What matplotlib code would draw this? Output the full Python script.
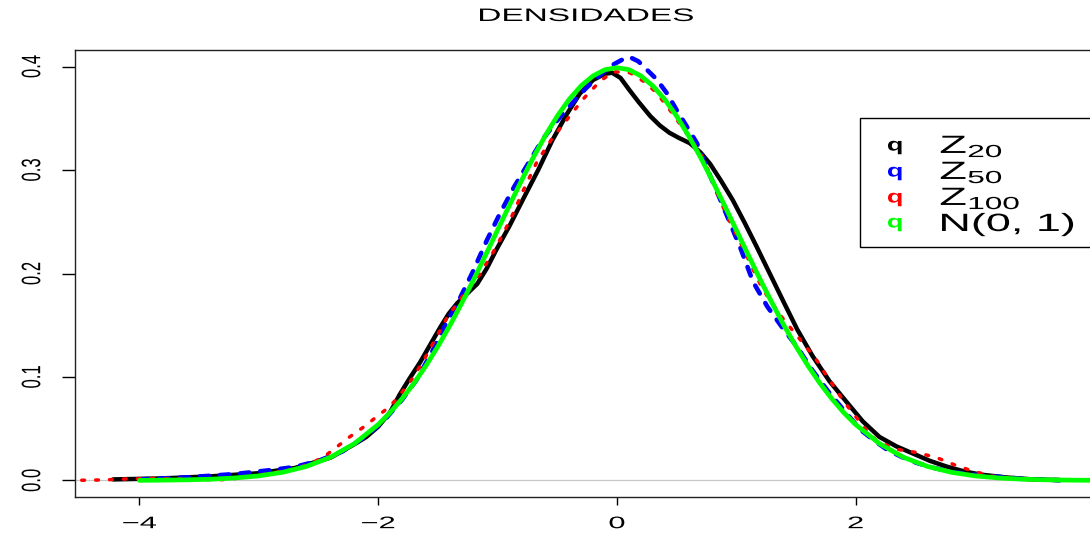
import matplotlib
matplotlib.use("Agg")
import matplotlib.pyplot as plt
from matplotlib.patches import Rectangle
from matplotlib.patheffects import AbstractPathEffect
from matplotlib.transforms import Affine2D

plt.rcParams['font.family'] = ['Liberation Sans', 'DejaVu Sans']
plt.rcParams['mathtext.fontset'] = 'custom'
plt.rcParams['mathtext.rm'] = 'Liberation Sans'

# estimated kernel densities of the standardized means
z20_x = [-4.22, -3.8, -3.4, -3.0, -2.7, -2.4, -2.2, -2.1, -2.0, -1.9, -1.82, -1.74,
         -1.65, -1.56, -1.48, -1.41, -1.34, -1.26, -1.17, -1.09, -1.01, -0.9, -0.79,
         -0.66, -0.54, -0.42, -0.31, -0.2, -0.1, -0.04, 0.03, 0.1, 0.18, 0.28, 0.36,
         0.44, 0.52, 0.61, 0.7, 0.78, 0.87, 0.97, 1.07, 1.17, 1.28, 1.39, 1.51, 1.64,
         1.78, 1.93, 2.06, 2.2, 2.34, 2.48, 2.62, 2.76, 2.9, 3.04, 3.25, 3.46, 3.71]
z20_y = [0.001, 0.002, 0.004, 0.007, 0.012, 0.022, 0.035, 0.042, 0.052, 0.066, 0.083,
         0.098, 0.114, 0.132, 0.148, 0.161, 0.171, 0.180, 0.190, 0.205, 0.223, 0.246,
         0.271, 0.300, 0.329, 0.354, 0.374, 0.387, 0.393, 0.394, 0.389, 0.378, 0.366,
         0.352, 0.343, 0.336, 0.331, 0.326, 0.317, 0.306, 0.290, 0.271, 0.249, 0.226,
         0.200, 0.174, 0.146, 0.120, 0.096, 0.075, 0.057, 0.042, 0.033, 0.026, 0.019,
         0.0135, 0.009, 0.0058, 0.003, 0.0012, 0.0003]

z50_x = [-4.0, -3.6, -3.2, -2.9, -2.7, -2.5, -2.3, -2.1, -1.95, -1.8, -1.68, -1.55,
         -1.43, -1.32, -1.21, -1.09, -0.98, -0.86, -0.74, -0.62, -0.5, -0.38, -0.26,
         -0.14, -0.03, 0.05, 0.11, 0.18, 0.25, 0.33, 0.42, 0.5, 0.58, 0.67, 0.76, 0.86,
         0.95, 1.04, 1.14, 1.26, 1.39, 1.51, 1.64, 1.77, 1.9, 2.04, 2.15, 2.26, 2.38,
         2.51, 2.66, 2.82, 3.0, 3.15, 3.4, 3.71]
z50_y = [0.001, 0.003, 0.0062, 0.010, 0.013, 0.019, 0.028, 0.043, 0.058, 0.078, 0.097,
         0.124, 0.152, 0.175, 0.201, 0.232, 0.258, 0.284, 0.307, 0.330, 0.348, 0.364,
         0.379, 0.392, 0.402, 0.407, 0.409, 0.405, 0.397, 0.388, 0.374, 0.358, 0.343,
         0.326, 0.300, 0.273, 0.248, 0.223, 0.192, 0.168, 0.147, 0.129, 0.106, 0.086,
         0.068, 0.049, 0.039, 0.030, 0.023, 0.017, 0.012, 0.008, 0.0055, 0.004, 0.0015,
         0.0003]

z100_x = [-4.6, -4.3, -4.1, -3.9, -3.7, -3.5, -3.3, -3.1, -2.9, -2.7, -2.55, -2.43,
          -2.34, -2.24, -2.13, -2.03, -1.93, -1.85, -1.71, -1.61, -1.51, -1.42, -1.30,
          -1.15, -1.04, -0.95, -0.87, -0.79, -0.67, -0.54, -0.41, -0.28, -0.14, -0.03,
          0.11, 0.22, 0.33, 0.45, 0.58, 0.7, 0.78, 0.84, 0.92, 1.06, 1.14, 1.22, 1.38,
          1.55, 1.62, 1.68, 1.74, 1.80, 1.85, 1.91, 1.97, 2.10, 2.19, 2.35, 2.51, 2.68,
          2.83, 2.98, 3.15, 3.32, 3.55, 3.8]
z100_y = [0.0, 0.0005, 0.0015, 0.002, 0.0015, 0.0008, 0.0008, 0.003, 0.007, 0.011,
          0.017, 0.025, 0.033, 0.042, 0.051, 0.060, 0.069, 0.078, 0.099, 0.118, 0.139,
          0.158, 0.177, 0.199, 0.220, 0.239, 0.258, 0.279, 0.308, 0.331, 0.350, 0.369,
          0.386, 0.395, 0.394, 0.386, 0.375, 0.357, 0.336, 0.316, 0.296, 0.278, 0.256,
          0.224, 0.204, 0.185, 0.158, 0.134, 0.124, 0.115, 0.104, 0.094, 0.085, 0.075,
          0.066, 0.047, 0.037, 0.030, 0.027, 0.022, 0.015, 0.009, 0.004, 0.0015, 0.0005,
          0.0]

# N(0, 1) density
norm_x = [-4.0, -3.8, -3.6, -3.4, -3.2, -3.0, -2.8, -2.6, -2.4, -2.2,
          -2.0, -1.9, -1.8, -1.7, -1.6, -1.5, -1.4, -1.3, -1.2, -1.1,
          -1.0, -0.9, -0.8, -0.7, -0.6, -0.5, -0.4, -0.3, -0.2, -0.1,
          0.0, 0.1, 0.2, 0.3, 0.4, 0.5, 0.6, 0.7, 0.8, 0.9,
          1.0, 1.1, 1.2, 1.3, 1.4, 1.5, 1.6, 1.7, 1.8, 1.9,
          2.0, 2.2, 2.4, 2.6, 2.8, 3.0, 3.2, 3.4, 3.6, 3.8, 4.0, 4.2]
norm_y = [0.0001, 0.0003, 0.0006, 0.0012, 0.0024, 0.0044, 0.0079, 0.0136, 0.0224, 0.0355,
          0.0540, 0.0656, 0.0790, 0.0940, 0.1109, 0.1295, 0.1497, 0.1714, 0.1942, 0.2179,
          0.2420, 0.2661, 0.2897, 0.3123, 0.3332, 0.3521, 0.3683, 0.3814, 0.3910, 0.3970,
          0.3989, 0.3970, 0.3910, 0.3814, 0.3683, 0.3521, 0.3332, 0.3123, 0.2897, 0.2661,
          0.2420, 0.2179, 0.1942, 0.1714, 0.1497, 0.1295, 0.1109, 0.0940, 0.0790, 0.0656,
          0.0540, 0.0355, 0.0224, 0.0136, 0.0079, 0.0044, 0.0024, 0.0012, 0.0006, 0.0003,
          0.0001, 0.0001]

x_ticks = [-4, -2, 0, 2]
y_ticks = [0.0, 0.1, 0.2, 0.3, 0.4]
y_ticklabels = ["0.0", "0.1", "0.2", "0.3", "0.4"]
legend_labels = ["Z$_{20}$", "Z$_{50}$", "Z$_{100}$", "N(0, 1)"]
colors = ["black", "#0000ff", "#ff0000", "#00ff00"]


class WideText(AbstractPathEffect):
    """Draw text glyphs stretched horizontally about their centre (or left edge)."""

    def __init__(self, sx, pivot="center"):
        super().__init__()
        self.sx = sx
        self.pivot = pivot

    def draw_path(self, renderer, gc, tpath, affine, rgbFace=None):
        box = tpath.get_extents(affine)
        cx = box.x0 if self.pivot == "left" else 0.5 * (box.x0 + box.x1)
        t = Affine2D(affine.get_matrix().copy())
        t.translate(-cx, 0).scale(self.sx, 1).translate(cx, 0)
        renderer.draw_path(gc, tpath, t, rgbFace)


W, H = 1090, 534
fig = plt.figure(figsize=(W / 100, H / 100), dpi=100)
ax = fig.add_axes([75 / W, (H - 497) / H, (1098 - 75) / W, (497 - 50) / H])

ax.axhline(0, color="#c8c8c8", lw=0.9, zorder=1)
ax.plot(z20_x, z20_y, color=colors[0], lw=3.2, solid_capstyle="round",
        solid_joinstyle="round", zorder=2)
ax.plot(z50_x, z50_y, color=colors[1], lw=3.3, dashes=(2.0, 2.4),
        dash_capstyle="round", zorder=3)
ax.plot(z100_x, z100_y, color=colors[2], lw=2.5, dashes=(0.8, 3.2),
        dash_capstyle="round", zorder=4)
ax.plot(norm_x, norm_y, color=colors[3], lw=3.4, solid_capstyle="round",
        solid_joinstyle="round", zorder=5)

ax.set_xlim(-4.54, 4.03)
ax.set_ylim(-0.016, 0.416)
ax.set_xticks(x_ticks)
ax.set_xticklabels(["\u2212" + str(-t) if t < 0 else str(t) for t in x_ticks])
ax.set_yticks(y_ticks)
ax.set_yticklabels(y_ticklabels, rotation=90, va="center")
ax.tick_params(axis="x", length=5.8, width=1.0, pad=8, labelsize=12)
ax.tick_params(axis="y", length=9.4, width=1.0, pad=16, labelsize=12)
for sp in ax.spines.values():
    sp.set_linewidth(1.0)
    sp.set_color("#222222")

for lbl in ax.get_xticklabels():
    lbl.set_path_effects([WideText(1.85)])
for lbl in ax.get_yticklabels():
    lbl.set_path_effects([WideText(1.6)])

fig.text(586 / W, 1 - 21 / H, "DENSIDADES", ha="center", va="baseline",
         fontsize=13, path_effects=[WideText(1.85)])

# legend box
fig.patches.append(Rectangle((860 / W, 1 - 247 / H), 260 / W, 129 / H,
                             transform=fig.transFigure, facecolor="white",
                             edgecolor="black", lw=1.0, zorder=10))
rows = [146, 172, 198, 223]
bases = [153, 179, 205, 231]
for c, lab, r, b in zip(colors, legend_labels, rows, bases):
    fig.text(895 / W, 1 - r / H, "q", color=c, ha="center", va="center",
             fontsize=13, fontweight="bold", zorder=11,
             path_effects=[WideText(1.5)])
    fig.text(940 / W, 1 - b / H, lab, ha="left", va="baseline",
             fontsize=18, zorder=11, path_effects=[WideText(1.8, pivot="left")])

fig.savefig("out.png", dpi=100)
